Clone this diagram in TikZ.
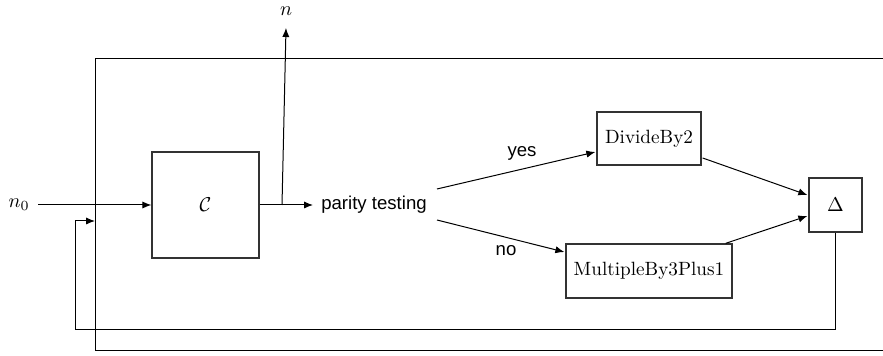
\documentclass[tikz,border=0pt]{standalone}
\usepackage{fontspec}
\newfontfamily\sansf{Liberation Sans}
\usetikzlibrary{arrows.meta,calc}
\begin{document}
\begin{tikzpicture}[x=0.5pt,y=-0.5pt,
  line width=0.5pt,
  arr/.style={-{Latex[length=4.5pt,width=3.6pt]}},
  blk/.style={draw=black!80,line width=0.65pt,inner sep=0pt,font=\fontsize{9.6}{11}\selectfont},
  lbl/.style={inner sep=0pt,font=\sansf\fontsize{9.3}{11}\selectfont}]
\useasboundingbox (0,0) rectangle (883,356);
% outer frame (open to the right)
\draw (883,59) -- (95,59) -- (95,351) -- (883,351);
% nodes
\node[blk,minimum width=53.5pt,minimum height=53pt] (c) at (205.5,205) {$\mathcal{C}$};
\node[lbl] (pt) at (374,205) {parity testing};
\node[blk,minimum width=52pt,minimum height=26.5pt] (d2) at (649,138.5) {DivideBy2};
\node[blk,minimum width=83pt,minimum height=27pt] (m3) at (649,271) {MultipleBy3Plus1};
\node[blk,minimum width=26.5pt,minimum height=27pt] (dl) at (835.5,205) {$\Delta$};
\node[inner sep=0pt,font=\fontsize{10}{12}\selectfont] (n0) at (19,205) {$n_0$};
\node[inner sep=0pt,font=\fontsize{10}{12}\selectfont] (n) at (286,11) {$n$};
\node[lbl] (yes) at (522,153) {yes};
\node[lbl] (no) at (506,251) {no};
% coordinates
\coordinate (n0e) at (38,205);
\coordinate (j) at (282,205);
\coordinate (ptw) at (313,205);
\coordinate (ntip) at (286,28);
\coordinate (pty) at (437,189);
\coordinate (ptn) at (437,220);
\coordinate (fb1) at (835.5,330);
\coordinate (fb2) at (75,330);
\coordinate (fb3) at (75,221);
\coordinate (fb4) at (95,221);
% connectors
\draw[arr] (n0e) -- (c.west);
\draw[arr] (c.east) -- (ptw);
\draw[arr] (j) -- (ntip);
\draw[arr] (pty) -- ($(d2.west)+(-1,13.5)$);
\draw[arr] (ptn) -- ($(m3.west)+(-1,-19)$);
\draw[arr] ($(d2.east)+(1,19.5)$) -- ($(dl.west)+(-1,-10)$);
\draw[arr] ($(m3.north east)+(-7,0)$) -- ($(dl.west)+(-1,11)$);
\draw[arr] (dl.south) -- (fb1) -- (fb2) -- (fb3) -- (fb4);
\end{tikzpicture}
\end{document}
